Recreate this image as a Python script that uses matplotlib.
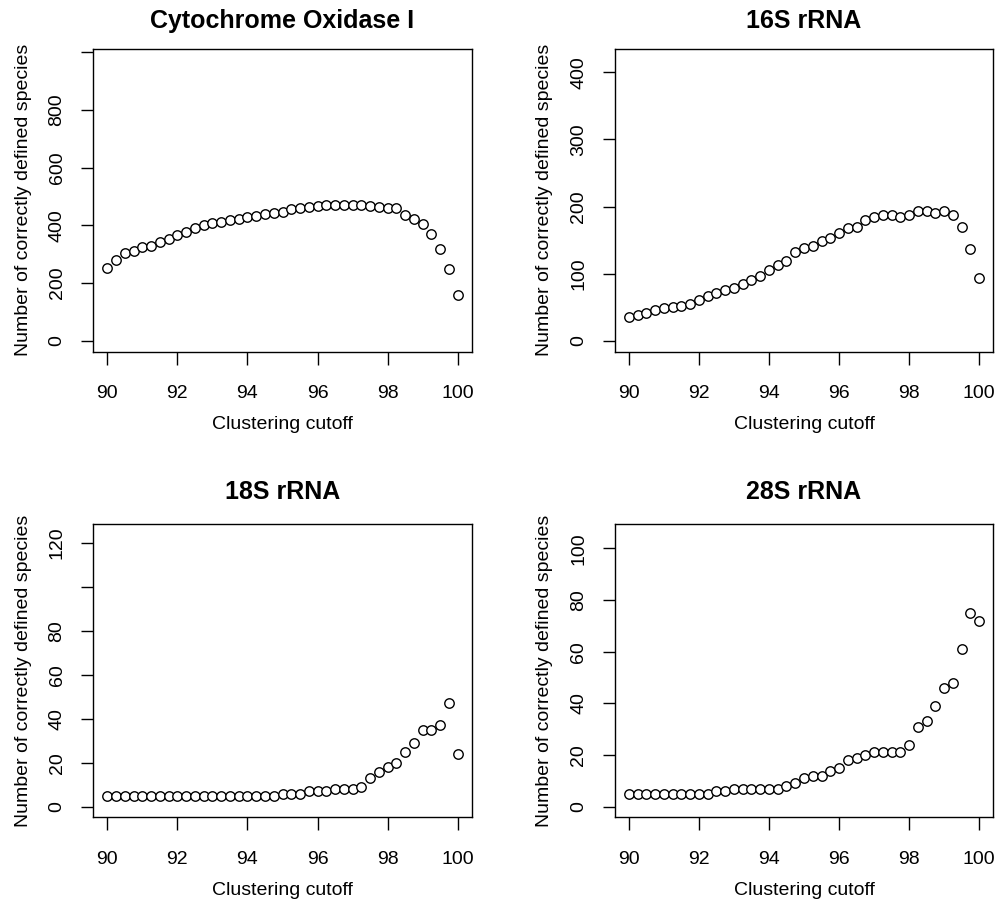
import numpy as np
import matplotlib.pyplot as plt

plt.rcParams['font.family'] = ['Liberation Sans', 'DejaVu Sans']

# Clustering cutoffs: 90 to 100 in steps of 0.25
cutoff = [90.0, 90.25, 90.5, 90.75, 91.0, 91.25, 91.5, 91.75, 92.0, 92.25,
          92.5, 92.75, 93.0, 93.25, 93.5, 93.75, 94.0, 94.25, 94.5, 94.75,
          95.0, 95.25, 95.5, 95.75, 96.0, 96.25, 96.5, 96.75, 97.0, 97.25,
          97.5, 97.75, 98.0, 98.25, 98.5, 98.75, 99.0, 99.25, 99.5, 99.75, 100.0]

coi = [253, 280, 303, 312, 324, 329, 342, 352, 366, 378,
       391, 400, 407, 413, 420, 422, 428, 432, 439, 442,
       447, 457, 461, 462, 468, 472, 472, 472, 472, 469,
       467, 464, 460, 460, 435, 421, 404, 369, 317, 249, 158]

rrna16 = [36, 39, 42, 46, 49, 50, 52, 55, 60, 66,
          71, 76, 79, 84, 90, 97, 105, 113, 119, 132,
          138, 141, 148, 153, 160, 168, 170, 180, 184, 188,
          188, 185, 188, 193, 194, 190, 194, 188, 170, 136, 94]

rrna18 = [5, 5, 5, 5, 5, 5, 5, 5, 5, 5,
          5, 5, 5, 5, 5, 5, 5, 5, 5, 5,
          6, 6, 6, 7, 7, 7, 8, 8, 8, 9,
          13, 16, 18, 20, 25, 29, 35, 35, 37, 47, 24]

rrna28 = [5, 5, 5, 5, 5, 5, 5, 5, 5, 5,
          6, 6, 7, 7, 7, 7, 7, 7, 8, 9,
          11, 12, 12, 14, 15, 18, 19, 20, 21, 21,
          21, 21, 24, 31, 33, 39, 46, 48, 61, 75, 72]

titles = ["Cytochrome Oxidase I", "16S rRNA", "18S rRNA", "28S rRNA"]
series = [coi, rrna16, rrna18, rrna28]
yticks = [[0, 200, 400, 600, 800, 1000],
          [0, 100, 200, 300, 400],
          [0, 20, 40, 60, 80, 100, 120],
          [0, 20, 40, 60, 80, 100]]
# R drops the labels that would collide, keep the tick marks
ytick_labels = [["0", "200", "400", "600", "800", ""],
                ["0", "100", "200", "300", "400"],
                ["0", "20", "40", "60", "80", "", "120"],
                ["0", "20", "40", "60", "80", "100"]]
ylims = [(-38, 1011), (-16.4, 435), (-4.8, 128.4), (-4.1, 109.3)]

# axes boxes in figure fraction [left, bottom, width, height]
boxes = [[0.0933, 0.6114, 0.3784, 0.3345],
         [0.6148, 0.6114, 0.3784, 0.3345],
         [0.0933, 0.0969, 0.3784, 0.3238],
         [0.6148, 0.0969, 0.3784, 0.3238]]
title_pads = [15, 15, 18, 18]

fig = plt.figure(figsize=(10, 9.05), dpi=100)

for i in range(4):
    ax = fig.add_axes(boxes[i])
    ax.plot(cutoff, series[i], linestyle='none', marker='o', markersize=6.8,
            markerfacecolor='white', markeredgecolor='black', markeredgewidth=1.0)
    ax.set_xlim(89.6, 100.4)
    ax.set_ylim(*ylims[i])
    ax.set_xticks([90, 92, 94, 96, 98, 100])
    ax.set_yticks(yticks[i])
    ax.set_yticklabels(ytick_labels[i], rotation=90, va='center')
    ax.tick_params(axis='both', direction='out', length=9, width=1.0, labelsize=14)
    ax.tick_params(axis='x', pad=15)
    ax.tick_params(axis='y', pad=11)
    for sp in ax.spines.values():
        sp.set_linewidth(1.0)
    ax.set_title(titles[i], fontsize=18, fontweight='bold', pad=title_pads[i])
    ax.set_xlabel("Clustering cutoff", fontsize=14, labelpad=10)
    ax.set_ylabel("Number of correctly defined species", fontsize=14, labelpad=12)

fig.savefig("out.png", dpi=100)
